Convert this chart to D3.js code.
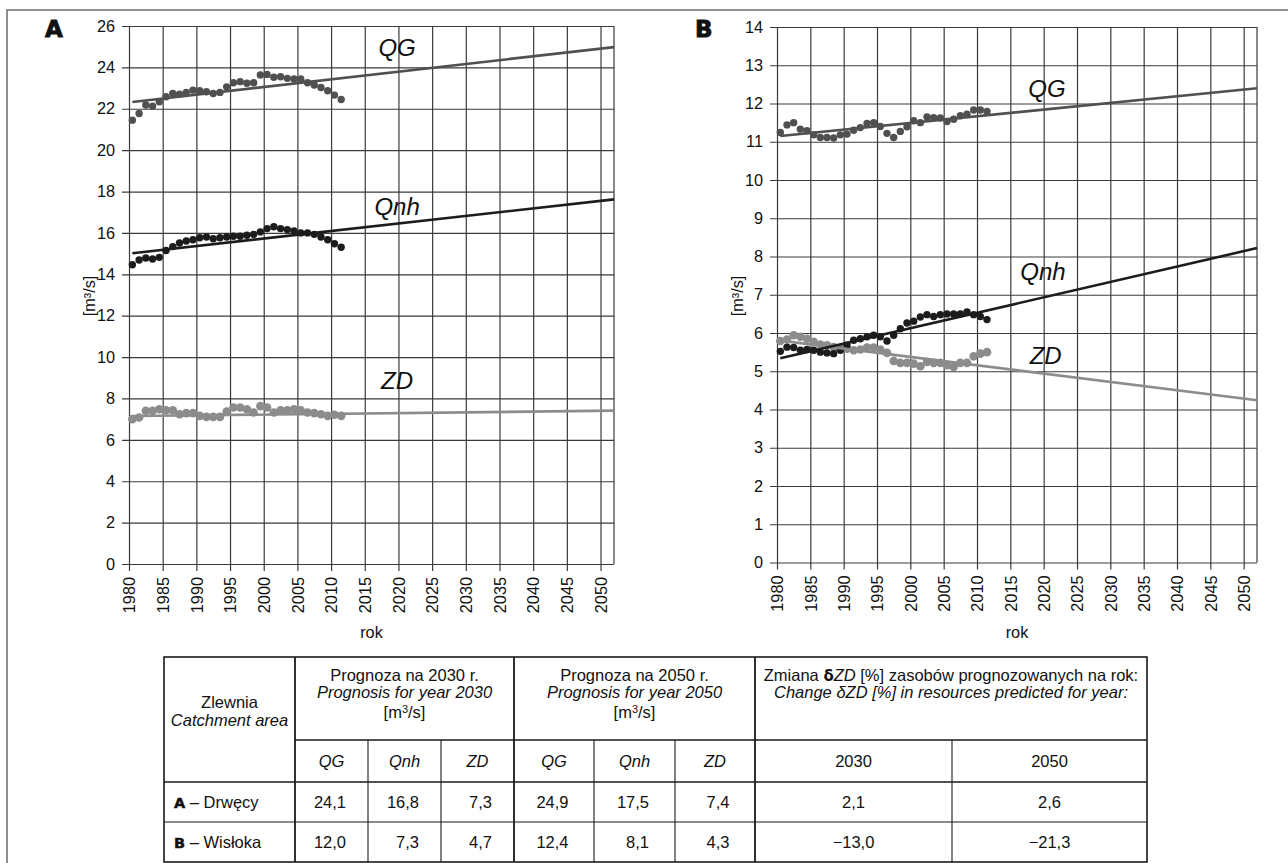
<!DOCTYPE html>
<html><head><meta charset="utf-8">
<script src="https://cdn.jsdelivr.net/npm/d3@7"></script>
<style>
body{margin:0;background:#fff;}
svg{display:block;font-family:"Liberation Sans Narrow","Arial Narrow","Liberation Sans",sans-serif;}
</style></head><body><svg id="chart" width="1288" height="863"></svg>
<script>
// ---------- data ----------
const years = [1980,1981,1982,1983,1984,1985,1986,1987,1988,1989,1990,1991,1992,1993,1994,1995,
               1996,1997,1998,1999,2000,2001,2002,2003,2004,2005,2006,2007,2008,2009,2010,2011];
const A_QG  = [21.45,21.77,22.18,22.13,22.34,22.58,22.74,22.71,22.79,22.90,22.87,22.82,22.74,22.79,23.06,23.26,
               23.31,23.23,23.26,23.63,23.66,23.52,23.55,23.47,23.44,23.44,23.26,23.15,23.03,22.87,22.66,22.45];
const A_Qnh = [14.46,14.69,14.79,14.74,14.82,15.15,15.34,15.51,15.61,15.67,15.77,15.80,15.72,15.77,15.80,15.84,
               15.84,15.89,15.93,16.05,16.21,16.30,16.21,16.16,16.10,16.00,16.00,15.93,15.80,15.67,15.48,15.31];
const A_ZD  = [7.00,7.08,7.40,7.40,7.48,7.43,7.43,7.24,7.29,7.29,7.16,7.11,7.11,7.11,7.37,7.56,
               7.56,7.48,7.32,7.63,7.56,7.32,7.43,7.43,7.48,7.43,7.32,7.29,7.24,7.16,7.21,7.16];
const B_QG  = [11.24,11.44,11.50,11.33,11.29,11.18,11.11,11.11,11.10,11.18,11.20,11.30,11.37,11.48,11.50,11.40,
               11.22,11.11,11.27,11.39,11.55,11.50,11.65,11.63,11.62,11.53,11.59,11.68,11.72,11.83,11.83,11.79];
const B_Qnh = [5.52,5.63,5.62,5.55,5.57,5.55,5.50,5.48,5.46,5.55,5.68,5.81,5.85,5.90,5.94,5.90,
               5.79,5.94,6.11,6.26,6.31,6.42,6.48,6.43,6.48,6.50,6.50,6.50,6.55,6.48,6.43,6.35];
const B_ZD  = [5.79,5.83,5.94,5.90,5.85,5.77,5.70,5.68,5.63,5.59,5.59,5.55,5.57,5.62,5.62,5.57,
               5.48,5.27,5.22,5.22,5.20,5.13,5.24,5.22,5.22,5.16,5.11,5.22,5.22,5.39,5.46,5.50];
// linear trends (start / end)
const trendYears = [1980.5, 2052];
const A_QG_trend  = [22.33, 24.98];
const A_Qnh_trend = [15.02, 17.62];
const A_ZD_trend  = [7.15, 7.41];
const B_QG_trend  = [11.15, 12.40];
const B_Qnh_trend = [5.34, 8.22];
const B_ZD_trend  = [5.80, 4.24];
const xTicks = [1980,1985,1990,1995,2000,2005,2010,2015,2020,2025,2030,2035,2040,2045,2050];
const yTicksA = [0,2,4,6,8,10,12,14,16,18,20,22,24,26];
const yTicksB = [0,1,2,3,4,5,6,7,8,9,10,11,12,13,14];
const seriesNames = ["QG","Qnh","ZD"];
// table
const tableKeys = ["A","B"];
const tableNames = ["Drwęcy","Wisłoka"];
const prog2030 = [[24.1,16.8,7.3],[12.0,7.3,4.7]];
const prog2050 = [[24.9,17.5,7.4],[12.4,8.1,4.3]];
const deltaZD  = [[2.1,2.6],[-13.0,-21.3]];

// ---------- drawing ----------
const svg = d3.select("#chart");
svg.append("rect").attr("width",1288).attr("height",863).attr("fill","#fff");
// outer frame
svg.append("path").attr("d","M7,863V10H1288").attr("fill","none").attr("stroke","#6a6a6a").attr("stroke-width",1.5);

const colors = {QG:"#505050", Qnh:"#1c1c1c", ZD:"#8c8c8c"};
const radius = {QG:3.7, Qnh:3.7, ZD:4.3};
const gridColor = "#3a3a3a";
const tickFont = 16.3;
const axisFam = "Liberation Sans";

function panel(cfg){
  const x = d3.scaleLinear().domain([1980,2052]).range(cfg.xr);
  const y = d3.scaleLinear().domain([0,cfg.ymax]).range(cfg.yr);
  const g = svg.append("g");
  const W = cfg.xr[1]-cfg.xr[0], H = cfg.yr[0]-cfg.yr[1];
  // y axis with gridlines
  const ya = g.append("g").attr("transform",`translate(${cfg.xr[0]},0)`)
    .call(d3.axisLeft(y).tickValues(cfg.yTicks).tickSize(-W).tickPadding(14).tickFormat(d3.format("d")));
  ya.attr("font-family",axisFam).attr("font-size",tickFont);
  ya.select(".domain").remove();
  ya.selectAll("line").attr("x1",-7).attr("stroke",gridColor).attr("stroke-width",1.2);
  ya.selectAll("text").attr("fill","#111");
  // x axis with gridlines
  const xa = g.append("g").attr("transform",`translate(0,${cfg.yr[0]})`)
    .call(d3.axisBottom(x).tickValues(xTicks).tickSize(-H).tickFormat(d3.format("d")));
  xa.attr("font-family",axisFam).attr("font-size",tickFont);
  xa.select(".domain").remove();
  xa.selectAll("line").attr("y1",7).attr("stroke",gridColor).attr("stroke-width",1.2);
  xa.selectAll("text").attr("fill","#111")
    .attr("transform","rotate(-90)").attr("x",-13).attr("y",0).attr("dy","0.35em").style("text-anchor","end");
  // right frame
  g.append("line").attr("x1",x(2052)).attr("x2",x(2052)).attr("y1",y(0)).attr("y2",y(cfg.ymax))
    .attr("stroke",gridColor).attr("stroke-width",1.2);
  // points
  cfg.series.forEach((s)=>{
    g.append("g").selectAll("circle").data(s.values).join("circle")
      .attr("cx",(d,i)=>x(years[i]+0.5)).attr("cy",d=>y(d)).attr("r",radius[s.name]).attr("fill",colors[s.name]);
  });
  // trend lines
  cfg.series.forEach((s)=>{
    const line = d3.line().x((d,i)=>x(trendYears[i])).y(d=>y(d));
    g.append("path").attr("d",line(s.trend)).attr("fill","none").attr("stroke",colors[s.name]).attr("stroke-width",2.6);
  });
  // series labels
  cfg.series.forEach((s)=>{
    g.append("text").attr("x",x(s.lab[0])).attr("y",y(s.lab[1])).attr("dy","0.35em")
      .attr("text-anchor","middle").attr("font-size",24).attr("font-style","italic").attr("fill","#111").text(s.name);
  });
  // axis titles
  g.append("text").attr("x",(cfg.xr[0]+cfg.xr[1])/2).attr("y",632).attr("dy","0.35em").attr("text-anchor","middle")
    .attr("font-family",axisFam).attr("font-size",tickFont).attr("fill","#111").text("rok");
  g.append("text").attr("transform",`translate(${cfg.xr[0]-cfg.ytOff},296) rotate(-90)`).attr("dy","0.35em")
    .attr("text-anchor","middle").attr("font-family",axisFam).attr("font-size",tickFont).attr("fill","#111").text("[m³/s]");
  // panel letter
  g.append("text").attr("x",cfg.letterX).attr("y",37).attr("font-family","DejaVu Sans").attr("font-weight",900)
    .attr("font-size",23).attr("fill","#111").attr("stroke","#111").attr("stroke-width",0.9).text(cfg.letter);
}

panel({xr:[129,614], yr:[564,26], ymax:26, yTicks:yTicksA, letter:"A", letterX:45, ytOff:40,
  series:[
    {name:"ZD", values:A_ZD, trend:A_ZD_trend, lab:[2019.8,8.84]},
    {name:"Qnh", values:A_Qnh, trend:A_Qnh_trend, lab:[2019.8,17.25]},
    {name:"QG", values:A_QG, trend:A_QG_trend, lab:[2019.8,24.95]}
  ]});
panel({xr:[777,1257], yr:[562.5,27], ymax:14, yTicks:yTicksB, letter:"B", letterX:695, ytOff:40,
  series:[
    {name:"ZD", values:B_ZD, trend:B_ZD_trend, lab:[2020.3,5.41]},
    {name:"Qnh", values:B_Qnh, trend:B_Qnh_trend, lab:[2019.9,7.6]},
    {name:"QG", values:B_QG, trend:B_QG_trend, lab:[2020.5,12.38]}
  ]});

// ---------- table ----------
const T = svg.append("g").attr("fill","#111");
const cx = [164,295,368,441,514,594,675,755,952,1147];
const ry = [657,740,782,822,862];
const lineC = "#1a1a1a";
const tFont = 16.5;
function ln(x1,y1,x2,y2,w){T.append("line").attr("x1",x1).attr("y1",y1).attr("x2",x2).attr("y2",y2).attr("stroke",lineC).attr("stroke-width",w);}
T.append("rect").attr("x",cx[0]).attr("y",ry[0]).attr("width",cx[9]-cx[0]).attr("height",ry[4]-ry[0])
  .attr("fill","none").attr("stroke",lineC).attr("stroke-width",1.6);
[1,4,7].forEach(i=>ln(cx[i],ry[0],cx[i],ry[4],1.8));
[2,3,5,6,8].forEach(i=>ln(cx[i],ry[1],cx[i],ry[4],1.1));
ln(cx[1],ry[1],cx[9],ry[1],1.6);
ln(cx[0],ry[2],cx[9],ry[2],1.6);
ln(cx[0],ry[3],cx[9],ry[3],1.1);

function txt(x,y,str,opt={}){
  const t = T.append("text").attr("x",x).attr("y",y).attr("dy","0.35em").attr("text-anchor",opt.anchor||"middle")
    .attr("font-size",opt.size||tFont);
  if(opt.italic) t.attr("font-style","italic");
  t.text(str);
  return t;
}
const mid=(a,b)=>(a+b)/2;
txt(mid(cx[0],cx[1]),702,"Zlewnia");
txt(mid(cx[0],cx[1]),720,"Catchment area",{italic:true});
[[1,4,"2030"],[4,7,"2050"]].forEach(([a,b,yr])=>{
  txt(mid(cx[a],cx[b]),675,`Prognoza na ${yr} r.`);
  txt(mid(cx[a],cx[b]),692,`Prognosis for year ${yr}`,{italic:true});
  const u = txt(mid(cx[a],cx[b]),712,"");
  u.append("tspan").text("[m");
  u.append("tspan").attr("font-size",11).attr("dy","-5").text("3");
  u.append("tspan").attr("dy","5").text("/s]");
});
{
  const t = txt(mid(cx[7],cx[9]),675,"");
  t.append("tspan").text("Zmiana ");
  t.append("tspan").attr("font-family","DejaVu Sans").attr("font-weight","bold").attr("font-size",15).text("δ");
  t.append("tspan").attr("font-style","italic").text("ZD");
  t.append("tspan").text(" [%] zasobów prognozowanych na rok:");
  txt(mid(cx[7],cx[9]),692,"Change δZD [%] in resources predicted for year:",{italic:true});
}
const hdr2 = [...seriesNames, ...seriesNames];
hdr2.forEach((h,i)=>txt(mid(cx[i+1],cx[i+2]),761,h,{italic:true}));
txt(mid(cx[7],cx[8]),761,"2030");
txt(mid(cx[8],cx[9]),761,"2050");
const fmt = v => d3.format(".1f")(v).replace(".",",");
tableKeys.forEach((k,r)=>{
  const yc = mid(ry[r+2],ry[r+3]);
  const t = txt(174,yc,"",{anchor:"start"});
  t.append("tspan").attr("font-family","DejaVu Sans").attr("font-weight",900).attr("font-size",14.5)
    .attr("stroke","#111").attr("stroke-width",0.5).text(k);
  t.append("tspan").text(" – "+tableNames[r]);
  const vals = [...prog2030[r], ...prog2050[r]];
  vals.forEach((v,i)=>txt(mid(cx[i+1],cx[i+2])+14.5,yc,fmt(v),{anchor:"end"}));
  deltaZD[r].forEach((v,i)=>txt(mid(cx[7+i],cx[8+i]),yc,fmt(v)));
});
</script></body></html>
